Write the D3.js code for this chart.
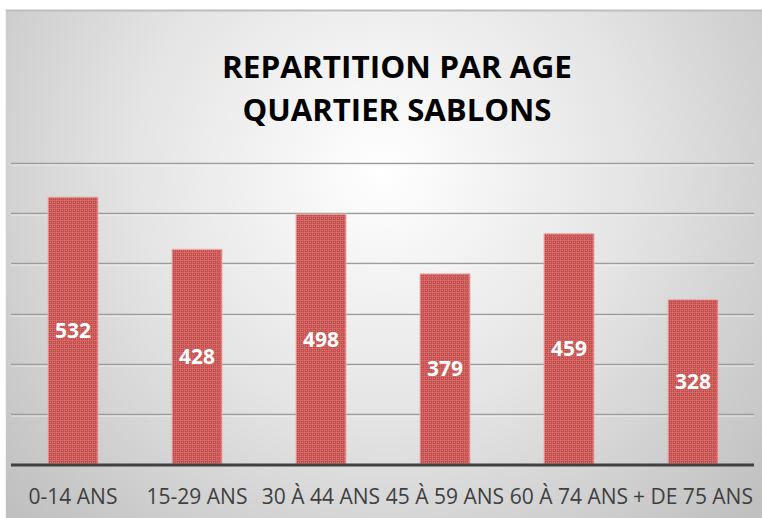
<!DOCTYPE html>
<html>
<head>
<meta charset="utf-8">
<script src="https://cdn.jsdelivr.net/npm/d3@7"></script>
<style>
  body { margin: 0; background: #fff; }
  svg { display: block; }
</style>
</head>
<body>
<svg id="chart" width="762" height="518"></svg>
<script>
// donnees
const categories = ["0-14 ANS", "15-29 ANS", "30 À 44 ANS", "45 À 59 ANS", "60 À 74 ANS", "+ DE 75 ANS"];
const effectifs = [532, 428, 498, 379, 459, 328];
const gridValues = [0, 100, 200, 300, 400, 500, 600];
const titre = ["REPARTITION PAR AGE", "QUARTIER SABLONS"];
const titreLargeur = [350, 309];

var svg = d3.select("#chart"),
    width = +svg.attr("width"),
    height = +svg.attr("height");

var defs = svg.append("defs");

// fond degrade
var grad = defs.append("radialGradient")
    .attr("id", "fond")
    .attr("gradientUnits", "userSpaceOnUse")
    .attr("cx", 383).attr("cy", 170).attr("r", 500);
grad.append("stop").attr("offset", "0").attr("stop-color", "#ffffff");
grad.append("stop").attr("offset", "0.5").attr("stop-color", "#e4e4e4");
grad.append("stop").attr("offset", "1").attr("stop-color", "#c0c0c0");

// motif des barres (petite grille)
var pat = defs.append("pattern")
    .attr("id", "grille")
    .attr("patternUnits", "userSpaceOnUse")
    .attr("width", 4).attr("height", 4);
pat.append("rect").attr("width", 4).attr("height", 4).attr("fill", "#c64f4d");
pat.append("rect").attr("x", 0).attr("y", 0).attr("width", 4).attr("height", 1).attr("fill", "#d77775").attr("opacity", 0.6);
pat.append("rect").attr("x", 0).attr("y", 0).attr("width", 1).attr("height", 4).attr("fill", "#d77775").attr("opacity", 0.6);
pat.append("rect").attr("x", 2).attr("y", 2).attr("width", 1).attr("height", 1).attr("fill", "#e09a98").attr("opacity", 0.7);

svg.append("rect")
    .attr("x", 5).attr("y", 10)
    .attr("width", width - 5).attr("height", height - 10)
    .attr("fill", "url(#fond)");
svg.append("line")
    .attr("x1", 5).attr("x2", width).attr("y1", 10.5).attr("y2", 10.5)
    .attr("stroke", "#bdbdbd").attr("stroke-width", 2);
svg.append("line")
    .attr("x1", 5.5).attr("x2", 5.5).attr("y1", 10).attr("y2", height)
    .attr("stroke", "#f2f2f2").attr("stroke-width", 1);

var x = d3.scaleBand()
    .domain(categories)
    .range([11, 755])
    .paddingInner(0.597)
    .paddingOuter(0.2985);

var y = d3.scaleLinear()
    .domain([0, 600])
    .range([464, 163]);

// lignes de quadrillage
var grid = svg.append("g");
grid.selectAll("line.g")
    .data(gridValues.slice(1))
    .enter().append("line")
    .attr("class", "g")
    .attr("x1", 11).attr("x2", 754)
    .attr("y1", d => Math.round(y(d)) + 0.5)
    .attr("y2", d => Math.round(y(d)) + 0.5)
    .attr("stroke", "#9c9c9c").attr("stroke-width", 1.5);
grid.selectAll("line.h")
    .data(gridValues.slice(1))
    .enter().append("line")
    .attr("class", "h")
    .attr("x1", 11).attr("x2", 754)
    .attr("y1", d => Math.round(y(d)) + 2)
    .attr("y2", d => Math.round(y(d)) + 2)
    .attr("stroke", "#ffffff").attr("stroke-opacity", 0.6).attr("stroke-width", 1);

// barres
svg.selectAll("rect.barre")
    .data(effectifs)
    .enter().append("rect")
    .attr("class", "barre")
    .attr("x", (d, i) => x(categories[i]))
    .attr("y", d => y(d))
    .attr("width", x.bandwidth())
    .attr("height", d => y(0) - y(d))
    .attr("fill", "url(#grille)")
    .attr("stroke", "#eab1b0")
    .attr("stroke-width", 1);

// axe
svg.append("line")
    .attr("x1", 11).attr("x2", 754)
    .attr("y1", y(0) + 1).attr("y2", y(0) + 1)
    .attr("stroke", "#404040").attr("stroke-width", 3);

// etiquettes des valeurs
svg.selectAll("text.val")
    .data(effectifs)
    .enter().append("text")
    .attr("class", "val")
    .attr("x", (d, i) => x(categories[i]) + x.bandwidth() / 2)
    .attr("y", d => (y(d) + y(0)) / 2 + 7.5)
    .attr("text-anchor", "middle")
    .attr("font-family", "'Open Sans', sans-serif")
    .attr("font-weight", "bold")
    .attr("font-size", "21px")
    .attr("fill", "#ffffff")
    .text(d => d);

// etiquettes des categories
svg.selectAll("text.cat")
    .data(categories)
    .enter().append("text")
    .attr("class", "cat")
    .attr("x", d => x(d) + x.bandwidth() / 2)
    .attr("y", 504)
    .attr("text-anchor", "middle")
    .attr("font-family", "'Open Sans', sans-serif")
    .attr("font-size", "21px")
    .attr("fill", "#404040")
    .text(d => d);

// titre
svg.selectAll("text.titre")
    .data(titre)
    .enter().append("text")
    .attr("class", "titre")
    .attr("x", 397)
    .attr("y", (d, i) => 78 + i * 43)
    .attr("text-anchor", "middle")
    .attr("textLength", (d, i) => titreLargeur[i])
    .attr("lengthAdjust", "spacingAndGlyphs")
    .attr("font-family", "'Open Sans', sans-serif")
    .attr("font-weight", "bold")
    .attr("font-size", "30px")
    .attr("fill", "#000000")
    .text(d => d);
</script>
</body>
</html>
